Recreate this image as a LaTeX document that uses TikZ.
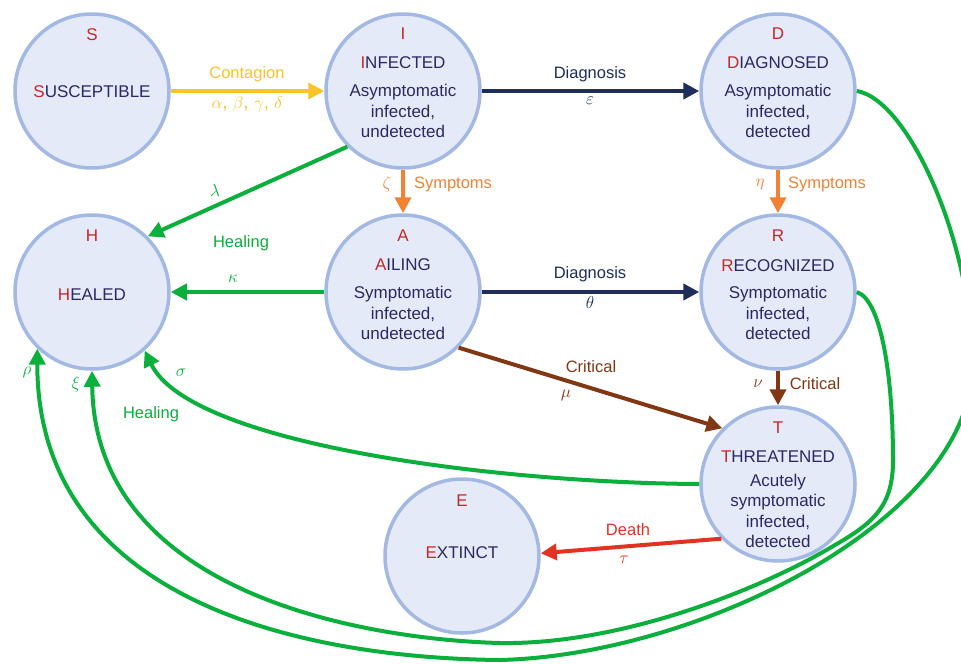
\documentclass[tikz,border=0pt]{standalone}
\usepackage{fontspec}
\setmainfont{Liberation Sans}
\usetikzlibrary{arrows.meta}
\definecolor{cfill}{RGB}{228,234,248}
\definecolor{cborder}{RGB}{163,184,227}
\definecolor{cnavy}{RGB}{40,42,100}
\definecolor{cred}{RGB}{200,40,40}
\definecolor{cyellow}{RGB}{250,195,40}
\definecolor{cdiag}{RGB}{30,45,90}
\definecolor{corange}{RGB}{240,130,50}
\definecolor{cgreen}{RGB}{10,175,60}
\definecolor{cbrown}{RGB}{130,55,20}
\definecolor{cdeath}{RGB}{225,50,35}
\begin{document}
\begin{tikzpicture}[x=1pt,y=-1pt,
  state/.style={circle, draw=cborder, fill=cfill, line width=3.5pt, minimum size=154pt, inner sep=0pt},
  txt/.style={inner sep=0pt, text=cnavy, font=\fontsize{17}{20.5}\selectfont, align=center},
  hdr/.style={inner sep=0pt, text=cred, font=\fontsize{17}{20}\selectfont},
  lbl/.style={inner sep=0pt, font=\fontsize{16.5}{19}\selectfont},
  gk/.style={inner sep=0pt, font=\fontsize{19}{22}\selectfont},
  arr/.style={line width=4pt, -{Triangle[length=16pt,width=16pt]}},
]
\useasboundingbox (0,0) rectangle (961,664);
% states
\node[state] (S) at (92,91) {};
\node[state] (I) at (403,91) {};
\node[state] (D) at (778,91) {};
\node[state] (H) at (92,292) {};
\node[state] (A) at (403,292) {};
\node[state] (R) at (778,292) {};
\node[state] (T) at (778,484) {};
\node[state] (E) at (462,556) {};
% texts
\node[hdr] (Sh) at (92,35) {S};
\node[txt] (St) at (92,92) {\textcolor{cred}{S}USCEPTIBLE};
\node[hdr] (Ih) at (403,34) {I};
\node[txt] (It) at (403,63) {\textcolor{cred}{I}NFECTED};
\node[txt] (Id) at (403,111) {Asymptomatic\\infected,\\undetected};
\node[hdr] (Dh) at (778,34) {D};
\node[txt] (Dt) at (778,63) {\textcolor{cred}{D}IAGNOSED};
\node[txt] (Dd) at (778,111) {Asymptomatic\\infected,\\detected};
\node[hdr] (Hh) at (92,236) {H};
\node[txt] (Ht) at (92,295) {\textcolor{cred}{H}EALED};
\node[hdr] (Ah) at (403,236) {A};
\node[txt] (At) at (403,265) {\textcolor{cred}{A}ILING};
\node[txt] (Ad) at (403,313) {Symptomatic\\infected,\\undetected};
\node[hdr] (Rh) at (778,236) {R};
\node[txt] (Rt) at (778,266) {\textcolor{cred}{R}ECOGNIZED};
\node[txt] (Rd) at (778,313) {Symptomatic\\infected,\\detected};
\node[hdr] (Th) at (778,428) {T};
\node[txt] (Tt) at (778,457) {\textcolor{cred}{T}HREATENED};
\node[txt] (Td) at (778,511) {Acutely\\symptomatic\\infected,\\detected};
\node[hdr] (Eh) at (462,501) {E};
\node[txt] (Et) at (462,553) {\textcolor{cred}{E}XTINCT};
% straight connectors
\draw[arr, cyellow] (S) -- (I);
\draw[arr, cdiag] (I) -- (D);
\draw[arr, corange] (I) -- (A);
\draw[arr, corange] (D) -- (R);
\draw[arr, cgreen] (I.-135) -- (H.45);
\draw[arr, cgreen] (A) -- (H);
\draw[arr, cdiag] (A) -- (R);
\draw[arr, cbrown] (A.-45) -- (T.135);
\draw[arr, cbrown] (R) -- (T);
\draw[arr, cdeath] (T.-136) -- (E.2);
% curved healing connectors
\draw[arr, cgreen] (T.west) .. controls (500,483) and (190,445) .. (H.-48);
\draw[arr, cgreen] (R.east) .. controls (882,300) and (893,380) .. (893,460)
  .. controls (893,505) and (875,522) .. (835,545)
  .. controls (760,590) and (620,645) .. (500,643)
  .. controls (380,640) and (95,600) .. (H.south);
\draw[arr, cgreen] (D.east) .. controls (910,100) and (975,250) .. (972,370)
  .. controls (968,520) and (700,655) .. (500,660)
  .. controls (300,658) and (37,600) .. (H.-134);
% labels
\node[lbl, text=cyellow] (l1) at (247,74) {Contagion};
\node[gk, text=cyellow] (g1) at (247,104) {$\alpha$, $\beta$, $\gamma$, $\delta$};
\node[lbl, text=cdiag] (l2) at (590,74) {Diagnosis};
\node[gk, text=cdiag] (g2) at (590,101) {$\varepsilon$};
\node[gk, text=corange] (g3) at (387,184) {$\zeta$};
\node[lbl, text=corange] (l3) at (453,184) {Symptoms};
\node[gk, text=corange] (g4) at (760,184) {$\eta$};
\node[lbl, text=corange] (l4) at (827,184) {Symptoms};
\node[gk, text=cgreen] (g5) at (215,190) {$\lambda$};
\node[lbl, text=cgreen] (l5) at (241,243) {Healing};
\node[gk, text=cgreen] (g6) at (233,279) {$\kappa$};
\node[lbl, text=cdiag] (l6) at (590,274) {Diagnosis};
\node[gk, text=cdiag] (g7) at (590,302) {$\theta$};
\node[lbl, text=cbrown] (l7) at (591,367) {Critical};
\node[gk, text=cbrown] (g8) at (566,395) {$\mu$};
\node[gk, text=cbrown] (g9) at (758,384) {$\nu$};
\node[lbl, text=cbrown] (l8) at (815,384) {Critical};
\node[lbl, text=cdeath] (l9) at (628,530) {Death};
\node[gk, text=cdeath] (g10) at (624,560) {$\tau$};
\node[gk, text=cgreen] (g11) at (27,372) {$\rho$};
\node[gk, text=cgreen] (g12) at (76,384) {$\xi$};
\node[gk, text=cgreen] (g13) at (181,373) {$\sigma$};
\node[lbl, text=cgreen] (l10) at (151,414) {Healing};
\end{tikzpicture}
\end{document}
